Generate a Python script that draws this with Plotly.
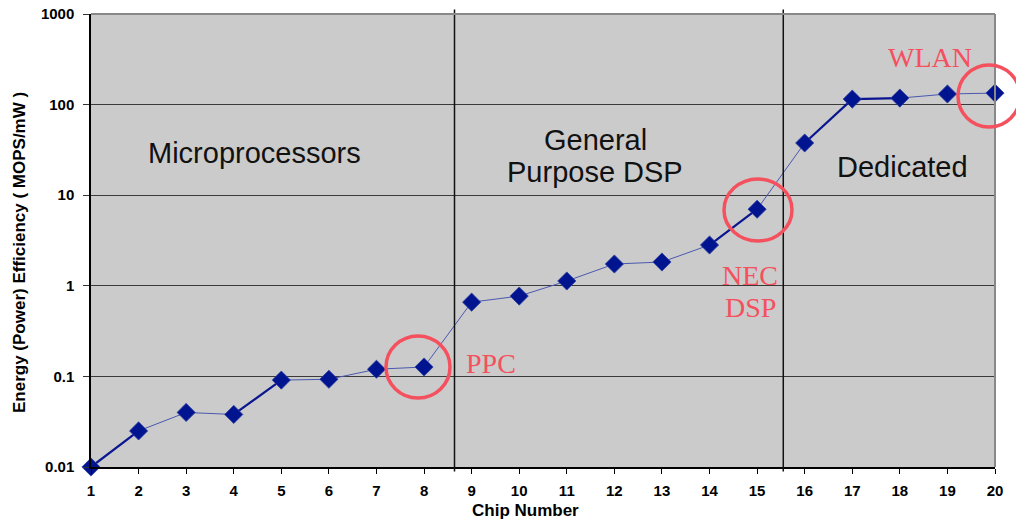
import plotly.graph_objects as go

chips = list(range(1, 21))
efficiency = [0.010, 0.025, 0.040, 0.038, 0.091, 0.093, 0.120, 0.127, 0.66, 0.77,
              1.13, 1.74, 1.83, 2.82, 7.0, 37.7, 115, 118, 131, 134]
thick_segments = [(0, 1), (3, 4), (13, 14), (15, 16), (16, 17)]
y_tickvals = [0.01, 0.1, 1, 10, 100, 1000]
y_ticktext = ["0.01", "0.1", "1", "10", "100", "1000"]
dividers = [8.64, 15.55]

L, R, T, B = 91, 21, 14, 53
W, H = 1016, 520
pw, ph = W - L - R, H - T - B

def px2paper(px, py):
    return (px - L) / pw, (H - B - py) / ph

fig = go.Figure()

fig.add_trace(go.Scatter(x=chips, y=efficiency, mode="lines",
                         line=dict(color="#4a58b0", width=1),
                         hoverinfo="skip", showlegend=False, cliponaxis=False))
for a, b in thick_segments:
    fig.add_trace(go.Scatter(x=chips[a:b + 1], y=efficiency[a:b + 1], mode="lines",
                             line=dict(color="#0a1690", width=2.2),
                             hoverinfo="skip", showlegend=False, cliponaxis=False))
fig.add_trace(go.Scatter(x=chips, y=efficiency, mode="markers",
                         marker=dict(symbol="diamond", size=14, color="#001490",
                                     line=dict(color="#3040a0", width=0.8)),
                         showlegend=False, cliponaxis=False))

shapes = []
for d in dividers:
    shapes.append(dict(type="line", xref="x", yref="paper", x0=d, x1=d, y0=-0.01, y1=1.01,
                       line=dict(color="#111111", width=1.5)))
shapes.append(dict(type="line", xref="paper", yref="paper", x0=0, x1=1, y0=1, y1=1,
                   line=dict(color="#888888", width=2)))
shapes.append(dict(type="line", xref="paper", yref="paper", x0=1, x1=1, y0=0, y1=1,
                   line=dict(color="#888888", width=2)))

circle_color = "#f5505e"
for (cx, cy, rx, ry) in [(418, 367, 32, 31), (758, 210, 34, 31), (989, 96, 31, 31)]:
    xa, ya = px2paper(cx, cy)
    shapes.append(dict(type="circle", xref="paper", yref="paper",
                       xsizemode="pixel", ysizemode="pixel",
                       xanchor=xa, yanchor=ya, x0=-rx, x1=rx, y0=-ry, y1=ry,
                       line=dict(color=circle_color, width=3.5)))

annotations = []
black_font = dict(family="Liberation Sans, Arial", size=29, color="#111111")
for txt, cx, cy in [("Microprocessors", 254, 153), ("General", 595, 140),
                    ("Purpose DSP", 595, 172), ("Dedicated", 902, 167)]:
    xa, ya = px2paper(cx, cy)
    annotations.append(dict(text=txt, xref="paper", yref="paper", x=xa, y=ya,
                            showarrow=False, font=black_font, xanchor="center", yanchor="middle"))
red_font = dict(family="Liberation Serif, Times New Roman", size=28, color="#f5505e")
for txt, cx, cy in [("PPC", 491, 363), ("NEC", 750, 275), ("DSP", 750, 307), ("WLAN", 930, 57)]:
    xa, ya = px2paper(cx, cy)
    annotations.append(dict(text=txt, xref="paper", yref="paper", x=xa, y=ya,
                            showarrow=False, font=red_font, xanchor="center", yanchor="middle"))
xa, ya = px2paper(525, 510)
annotations.append(dict(text="<b>Chip Number</b>", xref="paper", yref="paper", x=xa, y=ya,
                        showarrow=False, xanchor="center", yanchor="middle",
                        font=dict(family="Liberation Sans, Arial", size=17, color="#000000")))
xa, ya = px2paper(19, 253)
annotations.append(dict(text="<b>Energy (Power) Efficiency ( MOPS/mW )</b>", xref="paper",
                        yref="paper", x=xa, y=ya, textangle=-90,
                        showarrow=False, xanchor="center", yanchor="middle",
                        font=dict(family="Liberation Sans, Arial", size=17, color="#000000")))

fig.update_layout(
    width=W, height=H,
    margin=dict(l=L, r=R, t=T, b=B, autoexpand=False),
    paper_bgcolor="white", plot_bgcolor="#cbcbcb",
    shapes=shapes, annotations=annotations,
    xaxis=dict(range=[1, 20], tickmode="array", tickvals=chips,
               ticktext=["<b>%d</b>" % c for c in chips], ticks="outside",
               ticklen=5, tickcolor="#000", showgrid=False, zeroline=False,
               showline=True, linecolor="#000", linewidth=1.5, automargin=False,
               tickfont=dict(family="Liberation Sans, Arial", size=15, color="#000"),
               ticklabelstandoff=4),
    yaxis=dict(type="log", range=[-2, 3], tickmode="array", tickvals=y_tickvals,
               ticktext=["<b>%s</b>" % t for t in y_ticktext], ticks="outside",
               ticklen=6, tickcolor="#333", showgrid=True, gridcolor="#3a3a3a",
               gridwidth=1, zeroline=False, showline=True, linecolor="#000",
               linewidth=1.5, ticklabelstandoff=6, automargin=False,
               tickfont=dict(family="Liberation Sans, Arial", size=15, color="#000")),
    font=dict(family="Liberation Sans, Arial"),
)

fig.write_html("out.html", config={"displayModeBar": False},
               post_script="document.body.style.margin='0';")
